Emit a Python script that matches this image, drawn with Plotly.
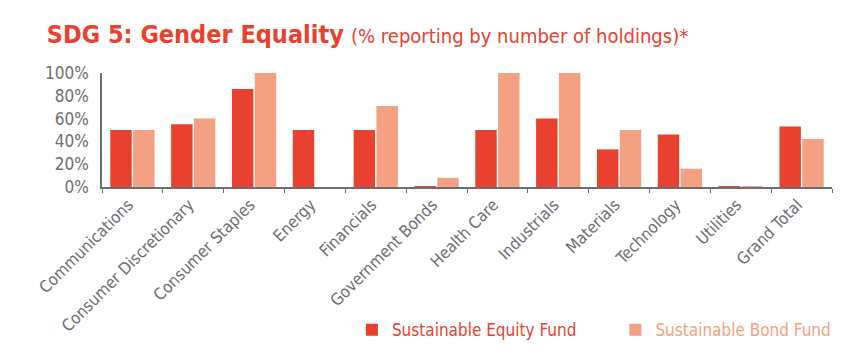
import plotly.graph_objects as go

categories = ["Communications", "Consumer Discretionary", "Consumer Staples", "Energy",
              "Financials", "Government Bonds", "Health Care", "Industrials",
              "Materials", "Technology", "Utilities", "Grand Total"]
equity = [50, 55, 86, 50, 50, 0.5, 50, 60, 33, 46, 0.5, 53]
bond = [50, 60, 100, 0, 71, 8, 100, 100, 50, 16, 0.5, 42]
y_ticks = [0, 20, 40, 60, 80, 100]
y_labels = ["0%", "20%", "40%", "60%", "80%", "100%"]

RED = "#E8412F"
SALMON = "#F4A083"
GRAY = "#6d6e71"
FONT = "DejaVu Sans Condensed, sans-serif"

fig = go.Figure()
fig.add_trace(go.Bar(x=categories, y=equity, marker_color=RED, marker_line_width=0,
                     name=f"<span style='color:{RED}'>Sustainable Equity Fund</span>" + "&nbsp;" * 7))
fig.add_trace(go.Bar(x=categories, y=bond, marker_color=SALMON, marker_line_width=0,
                     name=f"<span style='color:{SALMON}'>Sustainable Bond Fund</span>"))

fig.update_layout(
    width=850, height=357,
    paper_bgcolor="white", plot_bgcolor="white",
    margin=dict(l=102, r=18, t=73, b=170),
    barmode="group", bargap=0.25, bargroupgap=0.06,
    font=dict(family=FONT, color=GRAY),
    title=dict(
        text="<b>SDG 5: Gender Equality</b> <span style='font-size:20px'>(% reporting by number of holdings)*</span>",
        font=dict(size=25, color=RED, family=FONT),
        x=0.055, xanchor="left", y=0.905, yanchor="middle",
    ),
    showlegend=True,
    legend=dict(orientation="h", xref="container", yref="container",
                x=0.414, xanchor="left", y=0.075, yanchor="middle",
                font=dict(size=17), itemwidth=30,
                bgcolor="rgba(0,0,0,0)"),
)
fig.update_yaxes(range=[0, 100], tickvals=y_ticks, ticktext=y_labels, automargin=False,
                 showgrid=False, zeroline=False, showline=True, linecolor=GRAY, linewidth=1.5,
                 ticks="", ticklabelstandoff=8, tickfont=dict(size=17, color=GRAY))
fig.update_xaxes(showgrid=False, showline=True, linecolor=GRAY, linewidth=1.5, automargin=False,
                 ticks="outside", tickson="boundaries", ticklen=4, tickcolor=GRAY,
                 tickangle=-45, ticklabelshift=-4, tickfont=dict(size=16.5, color=GRAY))

fig.write_html("out.html", post_script="document.body.style.margin='0';",
               config={"displayModeBar": False})
